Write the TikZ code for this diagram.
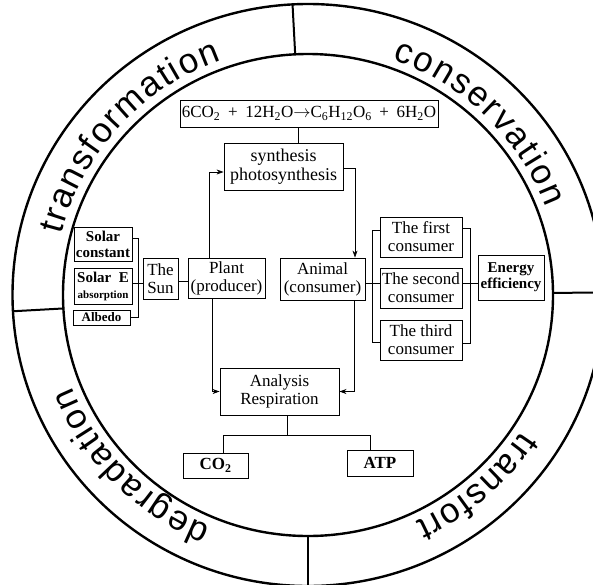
\documentclass[tikz,border=0pt]{standalone}
\usepackage{fontspec}
\setmainfont{Liberation Serif}
\newfontfamily\ringfont{Liberation Sans}
\newcommand\ringstyle{\ringfont\fontsize{35}{38}\selectfont}
\usetikzlibrary{arrows.meta,decorations.text,calc}

\begin{document}
\begin{tikzpicture}[x=1pt,y=1pt,
  box/.style={draw,line width=0.9pt,inner sep=0pt,align=center,
              font=\fontsize{17}{18}\selectfont},
  bbox/.style={box,font=\bfseries\fontsize{15}{16}\selectfont},
  link/.style={line width=0.7pt},
  arr/.style={link,-{Stealth[length=7pt,width=5pt]}},
  ring/.style={line width=2.4pt},
  divider/.style={line width=2pt},
  ringlabel/.style={decorate,decoration={text along path,text align={fit to path},
              text={|\ringstyle|#1}}},
]
\useasboundingbox (0,0) rectangle (593,-584);

% ---- outer band ----
\coordinate (O) at (308,-295);
\draw[ring] (O) ellipse [x radius=295.5, y radius=291];
\draw[ring] (O) ellipse [x radius=245, y radius=241];

\draw[divider] ($(O)+(93:295.5 and 291)$) -- ($(O)+(93:245 and 241)$);
\draw[divider] ($(O)+(0.5:300 and 291)$) -- ($(O)+(0.5:245 and 241)$);
\draw[divider] ($(O)+(270:295.5 and 291)$) -- ($(O)+(270:245 and 241)$);
\draw[divider] ($(O)+(183.2:295.5 and 291)$) -- ($(O)+(183.2:245 and 241)$);

% band labels, read clockwise and spread over their arcs
\path[ringlabel=transformation] ($(O)+(166:254 and 250)$)
  arc[start angle=166,end angle=110,x radius=254,y radius=250];
\path[ringlabel=conservation] ($(O)+(70.5:254 and 250)$)
  arc[start angle=70.5,end angle=20.5,x radius=254,y radius=250];
\path[ringlabel=transfort] ($(O)+(-33:254 and 250)$)
  arc[start angle=-33,end angle=-65,x radius=254,y radius=250];
\path[ringlabel=degradation] ($(O)+(247.5:254 and 250)$)
  arc[start angle=247.5,end angle=201.5,x radius=254,y radius=250];

% ---- boxes ----
\node[box,minimum width=258,minimum height=27] (eq) at (309,-113.5)
  {6CO\textsubscript{2}\hspace{0.45em}+\hspace{0.45em}12H\textsubscript{2}O$\rightarrow$C\textsubscript{6}H\textsubscript{12}O\textsubscript{6}\hspace{0.45em}+\hspace{0.45em}6H\textsubscript{2}O};
\node[box,minimum width=119,minimum height=47,font=\fontsize{18}{19}\selectfont]
  (synth) at (283.5,-166.5) {synthesis\\photosynthesis};

\node[bbox,minimum width=58,minimum height=34] (solarc) at (103,-244) {Solar\\constant};
\node[bbox,minimum width=58,minimum height=36] (solare) at (103,-286)
  {Solar\ \ E\\{\fontsize{11}{12}\selectfont absorption}};
\node[bbox,minimum width=57,minimum height=15,font=\bfseries\fontsize{13}{13}\selectfont]
  (albedo) at (101.5,-317.5) {Albedo};

\node[box,minimum width=35,minimum height=41] (sun) at (160.5,-278.5) {The\\Sun};
\node[box,minimum width=77,minimum height=40] (plant) at (226.5,-278) {Plant\\(producer)};
\node[box,minimum width=85,minimum height=42] (animal) at (322.5,-279) {Animal\\(consumer)};

\node[box,minimum width=82,minimum height=40] (first) at (421,-237) {The first\\consumer};
\node[box,minimum width=82,minimum height=40] (second) at (421,-288) {The second\\consumer};
\node[box,minimum width=82,minimum height=40] (third) at (421,-340) {The third\\consumer};
\node[bbox,minimum width=66,minimum height=45] (energy) at (511,-277.5) {Energy\\efficiency};

\node[box,minimum width=119,minimum height=47] (resp) at (279.5,-391.5) {Analysis\\Respiration};
\node[bbox,font=\bfseries\fontsize{17}{18}\selectfont,minimum width=65,minimum height=25]
  (co2) at (215.5,-465.5) {CO\textsubscript{2}};
\node[bbox,font=\bfseries\fontsize{17}{18}\selectfont,minimum width=66,minimum height=26]
  (atp) at (380,-463) {ATP};

% ---- connectors ----
\draw[link] ([xshift=-11pt]eq.south) -- ([xshift=-11pt]eq.south |- synth.north);
\draw[arr] ([xshift=-17.5pt]plant.north) |- ([yshift=-5.5pt]synth.west);
\draw[arr] ([yshift=-1.5pt]synth.east) -| ([xshift=32.5pt]animal.north);

% sun factors
\coordinate (lb) at (138,-238);
\draw[link] (solarc.east |- lb) -- (lb) |- (albedo.east);
\draw[link] ([yshift=3pt]solare.east) -- ([yshift=3pt]solare.east -| sun.west);
\draw[link] ([yshift=-2.5pt]sun.east) -- ([yshift=-2.5pt]sun.east -| plant.west);

% consumers
\coordinate (cl) at (372,-230);
\coordinate (cr) at (470,-228);
\draw[link] ([yshift=-4pt]animal.east) -- ([yshift=-4pt]animal.east -| second.west);
\draw[link] (first.west |- cl) -- (cl) |- ([yshift=-2pt]third.west);
\draw[link] (first.east |- cr) -- (cr) |- ([yshift=-3pt]third.east);
\draw[link] ([yshift=5pt]second.east) -- ([yshift=5pt]second.east -| energy.west);

% respiration
\draw[arr] ([xshift=-14.5pt]plant.south) |- (resp.west);
\draw[arr] ([xshift=31.5pt]animal.south) |- (resp.east);
\draw[link] ([xshift=7.5pt]resp.south) -- ++(0,-20) coordinate (split);
\draw[link] (split) -| ([xshift=7.5pt]co2.north);
\draw[link] (split) -| ([xshift=-10pt]atp.north);
\end{tikzpicture}
\end{document}
